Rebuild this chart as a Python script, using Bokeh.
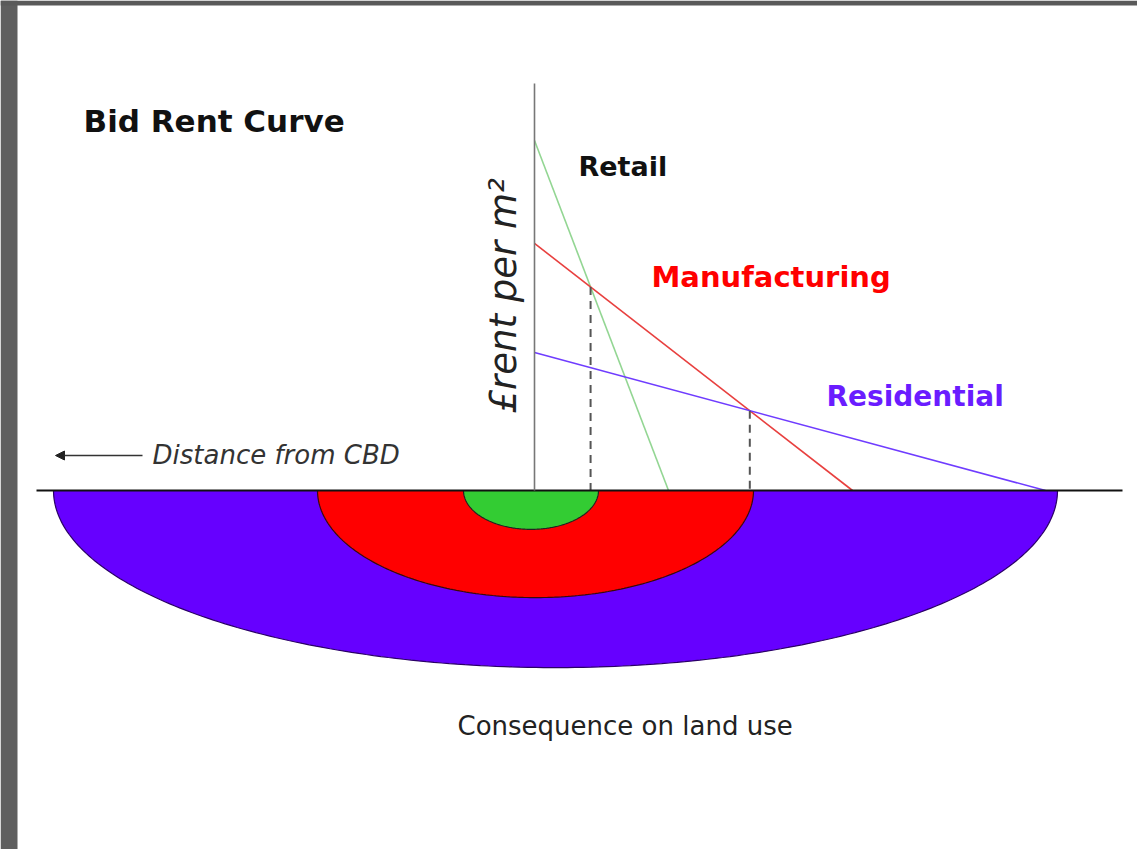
import numpy as np
from bokeh.plotting import figure
from bokeh.models import Range1d, Arrow, NormalHead, Label, BoxAnnotation
from bokeh.embed import file_html
from bokeh.resources import INLINE

# ---- data -------------------------------------------------------------
uses = ["Retail", "Manufacturing", "Residential"]
rent_at_cbd = [10.0, 7.06, 3.94]        # bid rent at the CBD (arbitrary £ per m² units)
max_distance = [2.68, 6.36, 10.22]      # distance at which the bid rent reaches zero

# land-use rings (distance from CBD, left / right edge) and drawn depth
zone_left = [-1.42, -4.34, -9.62]
zone_right = [1.28, 4.38, 10.46]
zone_depth = [1.11, 3.06, 5.06]

# ---- styles -------------------------------------------------------------
line_colors = ["#93d693", "#e8403f", "#6f3cff"]
label_colors = ["#111111", "#ff0000", "#6a1cff"]
zone_fill = ["#33cc33", "#ff0000", "#6600ff"]
zone_edge = ["#222222", "#3a0a0a", "#2a0066"]

# pixel <-> data helpers (layout only)
W, H = 1137, 849
OX, OY, SX, SY = 534.0, 490.0, 50.0, 35.0
def X(px):
    return (px - OX) / SX
def Y(py):
    return (OY - py) / SY

p = figure(width=W, height=H, output_backend="svg", toolbar_location=None,
           x_range=Range1d(X(0), X(W)), y_range=Range1d(Y(H), Y(0)),
           x_axis_location=None, y_axis_location=None, min_border=0,
           background_fill_color="white", border_fill_color="white")
p.grid.visible = False
p.outline_line_color = None

# ---- land-use rings (lower half ellipses), outermost first ---------------
t = np.linspace(np.pi, 2 * np.pi, 200)
for i in [2, 1, 0]:
    c = (zone_left[i] + zone_right[i]) / 2
    a = (zone_right[i] - zone_left[i]) / 2
    xs = c + a * np.cos(t)
    ys = zone_depth[i] * np.sin(t)
    p.patch(xs, ys, fill_color=zone_fill[i], line_color=zone_edge[i], line_width=1.2)

# ---- bid rent lines ------------------------------------------------------
for i in range(3):
    p.line([0, max_distance[i]], [rent_at_cbd[i], 0], line_color=line_colors[i], line_width=1.6)

# intersections (retail/manufacturing, manufacturing/residential)
def intersect(i, j):
    s_i = rent_at_cbd[i] / max_distance[i]
    s_j = rent_at_cbd[j] / max_distance[j]
    d = (rent_at_cbd[i] - rent_at_cbd[j]) / (s_i - s_j)
    return d, rent_at_cbd[i] - s_i * d

pts = [intersect(0, 1), intersect(1, 2)]
p.segment(x0=[q[0] for q in pts], y0=[q[1] for q in pts],
          x1=[q[0] for q in pts], y1=[0, 0],
          line_color="#555555", line_width=2, line_dash="8 6")

# ground line and rent axis
p.line([X(36), X(1122)], [0, 0], line_color="#111111", line_width=2)
p.line([0, 0], [0, Y(83)], line_color="#777777", line_width=1.6)

# ---- texts ---------------------------------------------------------------
FONT = "DejaVu Sans"
def label(px, py, text, size, color, style="normal", angle=0.0):
    p.add_layout(Label(x=X(px), y=Y(py), text=text, text_font=FONT, text_font_style=style,
                       text_font_size=size, text_color=color, angle=angle,
                       text_baseline="bottom", text_align="left"))

label(83, 138, "Bid Rent Curve", "31px", "#111111", "bold")
label_pos = [(578, 181, "27px"), (651, 293, "29px"), (826, 412, "28px")]
for i, (lx, ly, fs) in enumerate(label_pos):
    label(lx, ly, uses[i], fs, label_colors[i], "bold")

label(524, 413, "£rent per m²", "37px", "#222222", "italic", np.pi / 2)
label(152, 469, "Distance from CBD", "26px", "#333333", "italic")
p.add_layout(Arrow(end=NormalHead(size=9, fill_color="#222222", line_color="#222222"),
                   x_start=X(142), y_start=Y(455), x_end=X(55), y_end=Y(455),
                   line_color="#333333", line_width=1.5))
label(457, 740, "Consequence on land use", "26px", "#222222")

# page frame of the screenshot (left and top edges)
p.add_layout(BoxAnnotation(left=X(0), right=X(17), fill_color="#5f5f5f", fill_alpha=1.0,
                           line_color=None))
p.add_layout(BoxAnnotation(top=Y(0), bottom=Y(5), fill_color="#5a5a5a", fill_alpha=1.0,
                           line_color=None))

open("out.html", "w").write(file_html(p, INLINE))
